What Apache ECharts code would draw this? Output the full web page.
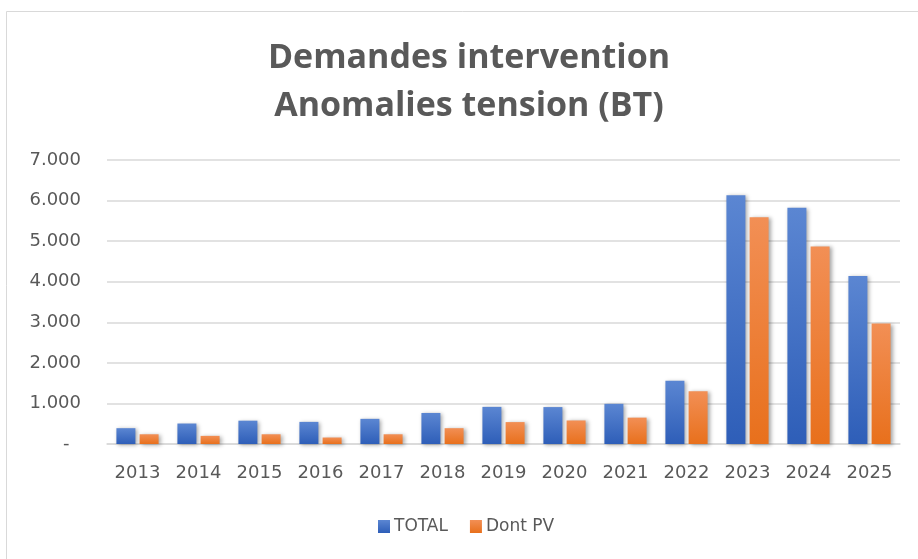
<!DOCTYPE html>
<html lang="fr">
<head>
    <meta charset="UTF-8">
    <title>Demandes intervention - Anomalies tension (BT)</title>
    <script src="https://cdn.jsdelivr.net/npm/echarts@6/dist/echarts.min.js"></script>
    <style>
        html, body { margin: 0; padding: 0; background: #fff; }
        #main { width: 918px; height: 559px; }
    </style>
</head>
<body>
<div id="main"></div>
<script>
    // données
    const annees = ['2013', '2014', '2015', '2016', '2017', '2018', '2019', '2020', '2021', '2022', '2023', '2024', '2025'];
    const total = [390, 505, 575, 545, 620, 765, 915, 910, 990, 1560, 6130, 5820, 4140];
    const dontPV = [240, 200, 240, 160, 240, 390, 540, 580, 650, 1300, 5590, 4870, 2970];

    const gris = '#595959';
    const police = '"DejaVu Sans", sans-serif';

    function degrade(haut, bas) {
        return new echarts.graphic.LinearGradient(0, 0, 0, 1, [
            { offset: 0, color: haut },
            { offset: 1, color: bas }
        ]);
    }

    // format "7.000", zéro affiché en tiret
    function formatMilliers(v) {
        if (v === 0) return '-  ';
        return String(v).replace(/\B(?=(\d{3})+(?!\d))/g, '.');
    }

    const ombre = {
        shadowBlur: 4,
        shadowColor: 'rgba(0,0,0,0.35)',
        shadowOffsetX: 2,
        shadowOffsetY: 1
    };

    const chart = echarts.init(document.getElementById('main'), null, { renderer: 'canvas' });

    chart.setOption({
        animation: false,
        backgroundColor: '#fff',
        graphic: [{
            type: 'rect',
            shape: { x: 6.5, y: 11.5, width: 1000, height: 1000 },
            style: { fill: 'none', stroke: '#d9d9d9', lineWidth: 1 },
            silent: true
        }],
        title: {
            text: 'Demandes intervention\nAnomalies tension (BT)',
            left: 469,
            top: 34,
            padding: 0,
            textAlign: 'center',
            textStyle: {
                fontFamily: '"Open Sans", sans-serif',
                fontWeight: 'bold',
                fontSize: 34,
                lineHeight: 48,
                color: gris
            }
        },
        legend: {
            data: ['TOTAL', 'Dont PV'],
            left: 373,
            top: 513,
            icon: 'rect',
            itemWidth: 12,
            itemHeight: 13,
            itemGap: 22,
            textStyle: { fontFamily: police, fontSize: 17, color: gris, padding: [0, 0, 0, -1] }
        },
        grid: {
            left: 107,
            right: 18,
            top: 160,
            bottom: 115,
            containLabel: false
        },
        xAxis: {
            type: 'category',
            data: annees,
            axisLine: { lineStyle: { color: '#d9d9d9', width: 1.5 } },
            axisTick: { show: false },
            axisLabel: { fontFamily: police, fontSize: 18, color: gris, margin: 20 }
        },
        yAxis: {
            type: 'value',
            min: 0,
            max: 7000,
            interval: 1000,
            axisLine: { show: false },
            axisTick: { show: false },
            splitLine: { lineStyle: { color: '#d9d9d9', width: 1.5 } },
            axisLabel: {
                fontFamily: police,
                fontSize: 18,
                color: gris,
                margin: 26,
                formatter: formatMilliers
            }
        },
        series: [
            {
                name: 'TOTAL',
                type: 'bar',
                data: total,
                barWidth: 19,
                barGap: '22%',
                itemStyle: Object.assign({ color: degrade('#5b86d2', '#2e5eb8') }, ombre)
            },
            {
                name: 'Dont PV',
                type: 'bar',
                data: dontPV,
                barWidth: 19,
                itemStyle: Object.assign({ color: degrade('#f28f55', '#e8701c') }, ombre)
            }
        ]
    });
</script>
</body>
</html>
